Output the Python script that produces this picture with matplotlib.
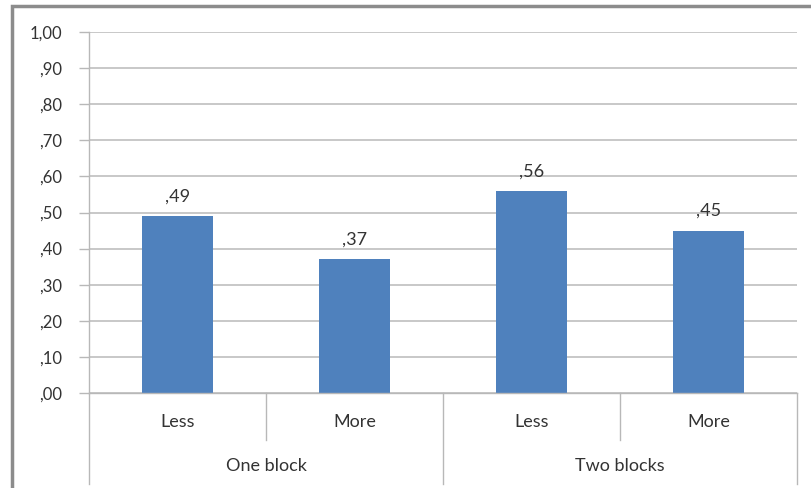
import matplotlib
matplotlib.use("Agg")
import matplotlib.pyplot as plt
from matplotlib.lines import Line2D
from matplotlib.patches import Rectangle
import matplotlib.transforms as mtransforms

plt.rcParams['font.family'] = ['Lato', 'DejaVu Sans']

groups = ["One block", "Two blocks"]
subcats = ["Less", "More", "Less", "More"]
values = [0.49, 0.37, 0.56, 0.45]
value_labels = [",49", ",37", ",56", ",45"]
yticks = [0.0, 0.1, 0.2, 0.3, 0.4, 0.5, 0.6, 0.7, 0.8, 0.9, 1.0]
ytick_labels = [",00", ",10", ",20", ",30", ",40", ",50", ",60", ",70", ",80", ",90", "1,00"]

W, H = 811, 488
fig = plt.figure(figsize=(W / 100, H / 100), dpi=100)

# outer chart border (extends past right/bottom edges)
fig.patches.append(Rectangle((12 / W, -0.05), 1.2, (H - 6) / H + 0.05,
                             transform=fig.transFigure, fill=False,
                             edgecolor="#8c8c8c", linewidth=2.5, zorder=0))

left, right, top, bottom = 89, 797, 32, 393
ax = fig.add_axes([left / W, (H - bottom) / H, (right - left) / W, (bottom - top) / H])

txt_color = "#333333"
x = list(range(len(values)))
ax.bar(x, values, width=0.4, color="#4F81BD", zorder=3)
ax.set_xlim(-0.5, len(values) - 0.5)
ax.set_ylim(0, 1.0)
ax.set_yticks(yticks)
ax.set_yticklabels(ytick_labels, fontsize=12, color=txt_color)
ax.tick_params(axis="y", length=7, color="#b8b8b8", width=1, pad=12)
ax.set_xticks([])
for yv in yticks:
    ax.axhline(yv, color="#c4c4c4", linewidth=1.3, zorder=1)
for s in ["top", "right", "bottom"]:
    ax.spines[s].set_visible(False)
ax.spines["left"].set_color("#b8b8b8")
ax.spines["left"].set_linewidth(1)

for xi, v, lab in zip(x, values, value_labels):
    ax.annotate(lab, (xi, v), xytext=(0, 14), textcoords="offset points",
                ha="center", va="center", fontsize=13, color=txt_color)

# multi-level category axis
trans = mtransforms.blended_transform_factory(ax.transData, fig.transFigure)
ypix = lambda p: (H - p) / H
line_kw = dict(color="#b8b8b8", linewidth=1, clip_on=False)
fig.add_artist(Line2D([-0.5, len(values) - 0.5], [ypix(bottom), ypix(bottom)], transform=trans, **line_kw))
for b in [0.5, 2.5]:
    fig.add_artist(Line2D([b, b], [ypix(bottom), ypix(440)], transform=trans, **line_kw))
for b in [-0.5, 1.5, 3.5]:
    fig.add_artist(Line2D([b, b], [ypix(bottom), ypix(484)], transform=trans, **line_kw))

for xi, lab in zip(x, subcats):
    fig.text(xi, ypix(422), lab, transform=trans, ha="center", va="center",
             fontsize=13, color=txt_color)
for gi, g in enumerate(groups):
    fig.text(gi * 2 + 0.5, ypix(466), g, transform=trans, ha="center", va="center",
             fontsize=13, color=txt_color)

fig.savefig("out.png", dpi=100)
